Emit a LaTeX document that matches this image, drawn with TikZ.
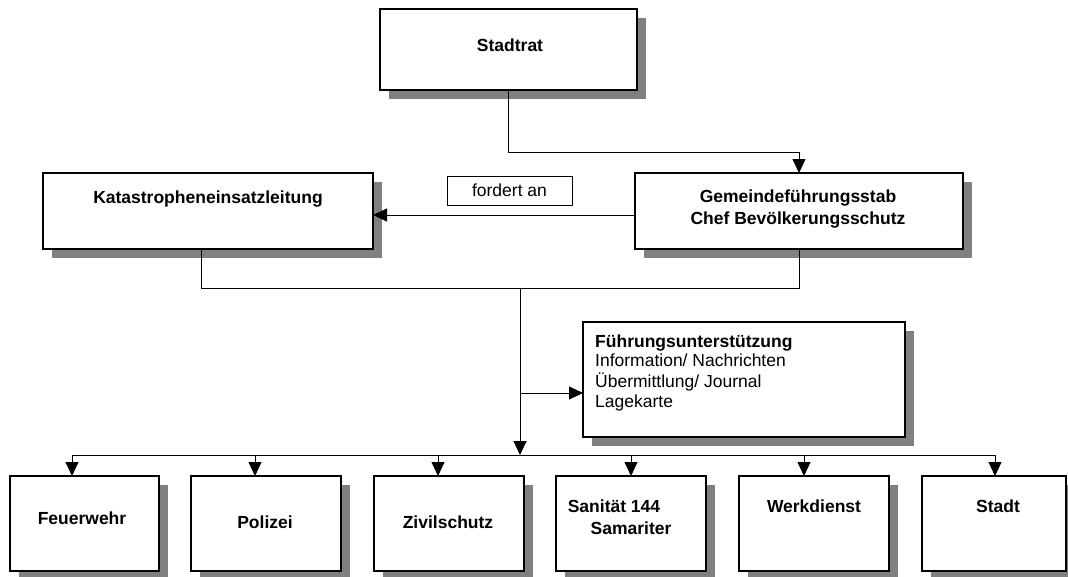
\documentclass[tikz,border=0pt]{standalone}
\usepackage{fontspec}
\setmainfont{Liberation Sans}
\usetikzlibrary{arrows.meta,shadows,calc}
\definecolor{shadowgray}{HTML}{808080}
\newcommand\txtfont{\fontsize{17.5}{21}\selectfont}
\begin{document}
\begin{tikzpicture}[x=1pt,y=-1pt,
  box/.style={draw=black, line width=1.2pt, fill=white, rectangle, inner sep=0pt, outer sep=0pt, anchor=north west,
    drop shadow={shadow xshift=9pt, shadow yshift=-9pt, fill=shadowgray, opacity=1}},
  plainbox/.style={draw=black, line width=0.8pt, fill=white, rectangle, inner sep=0pt, outer sep=0pt, anchor=north west, font=\txtfont},
  lbl/.style={font=\txtfont\bfseries, inner sep=0pt, anchor=base},
  lblleft/.style={font=\txtfont, inner sep=0pt, anchor=base west},
  conn/.style={draw=black, line width=0.9pt},
  arr/.style={conn, -{Triangle[length=14pt, width=13pt]}}
]
\useasboundingbox (0,0) rectangle (1068,576);

% boxes
\node[box, minimum width=257pt, minimum height=81pt] (stadtrat) at (380,9) {};
\node[box, minimum width=330pt, minimum height=76pt] (kel) at (43,173) {};
\node[box, minimum width=328pt, minimum height=76pt] (gfs) at (635,173) {};
\node[plainbox, minimum width=125pt, minimum height=29pt] (fa) at (447,176) {fordert an};
\node[box, minimum width=322pt, minimum height=115pt] (fu) at (583,322) {};
\node[box, minimum width=149pt, minimum height=95pt] (fw) at (10,476) {};
\node[box, minimum width=150pt, minimum height=95pt] (po) at (191,476) {};
\node[box, minimum width=150pt, minimum height=95pt] (zs) at (374,476) {};
\node[box, minimum width=150pt, minimum height=95pt] (sa) at (556,476) {};
\node[box, minimum width=150pt, minimum height=95pt] (wd) at (739,476) {};
\node[box, minimum width=144pt, minimum height=95pt] (st) at (922,476) {};

% texts
\node[lbl] (tstadtrat) at (510,51) {Stadtrat};
\node[lbl] (tkel) at (208,203) {Katastropheneinsatzleitung};
\node[lbl] (tgfs1) at (798,202) {Gemeindeführungsstab};
\node[lbl] (tgfs2) at (798,224) {Chef Bevölkerungsschutz};
\node[lblleft, font=\txtfont\bfseries] (tfu1) at (595,347) {Führungsunterstützung};
\node[lblleft] (tfu2) at (595,366) {Information/ Nachrichten};
\node[lblleft] (tfu3) at (595,387) {Übermittlung/ Journal};
\node[lblleft] (tfu4) at (595,407) {Lagekarte};
\node[lbl] (tfw) at (82,524) {Feuerwehr};
\node[lbl] (tpo) at (265,528) {Polizei};
\node[lbl] (tzs) at (448,528) {Zivilschutz};
\node[lbl] (tsa1) at (614,512) {Sanität 144};
\node[lbl] (tsa2) at (631,534) {Samariter};
\node[lbl] (twd) at (814,512) {Werkdienst};
\node[lbl] (tst) at (998,512) {Stadt};

% junction coordinates
\coordinate (j1) at (201,288);
\coordinate (j2) at (520,288);
\coordinate (j3) at (520,393);
\coordinate (bus) at (520,455);
\coordinate (b1) at (72,455);
\coordinate (b2) at (255,455);
\coordinate (b3) at (438,455);
\coordinate (b4) at (631,455);
\coordinate (b5) at (804,455);
\coordinate (b6) at (995,455);

% connectors
\draw[arr] (stadtrat.south) -- ++(0,62) -| (gfs.north);
\draw[arr] ([yshift=-4pt]gfs.west) -- ([yshift=-4pt]kel.east);
\draw[conn] (kel.south -| j1) -- (j1) -| (gfs.south);
\draw[arr] (j2) -- (bus);
\draw[arr] (j3) -- (j3 -| fu.west);
\draw[conn] (b1) -- (b6);
\draw[arr] (b1) -- (b1 |- fw.north);
\draw[arr] (b2) -- (b2 |- po.north);
\draw[arr] (b3) -- (b3 |- zs.north);
\draw[arr] (b4) -- (b4 |- sa.north);
\draw[arr] (b5) -- (b5 |- wd.north);
\draw[arr] (b6) -- (b6 |- st.north);
\end{tikzpicture}
\end{document}
